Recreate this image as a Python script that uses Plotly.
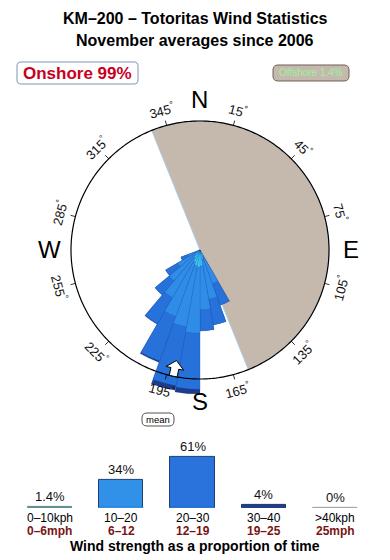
import math
import plotly.graph_objects as go

# ---------------- data ----------------
title_line1 = "KM–200 – Totoritas Wind Statistics"
title_line2 = "November averages since 2006"
onshore_label = "Onshore 99%"
offshore_label = "Offshore 1.4%"
mean_label = "mean"
footer_label = "Wind strength as a proportion of time"

# wind rose: direction sectors (centre, degrees) and % of time per speed class
sector_dirs = [155, 165, 175, 185, 195, 205, 215, 225, 235, 245]
pct_0_10 = [0.05, 0.1, 0.3, 0.35, 0.3, 0.2, 0.1, 0.05, 0.0, 0.0]
pct_10_20 = [1.5, 2.9, 4.0, 8.0, 7.0, 5.8, 3.55, 1.9, 0.8, 0.2]
pct_20_30 = [2.6, 3.95, 3.55, 15.0, 15.5, 10.8, 5.1, 2.2, 1.1, 0.3]
pct_30_40 = [0.0, 0.0, 0.0, 1.6, 1.6, 0.4, 0.1, 0.0, 0.0, 0.0]
sector_width = 10
ring_pct = 20            # % represented by the outer circle
offshore_start = 338     # offshore sector, clockwise from start to end
offshore_end = 158
mean_dir = 192

tick_angles = [15, 45, 75, 105, 135, 165, 195, 225, 255, 285, 315, 345]
cardinal_names = ["N", "E", "S", "W"]
cardinal_angles = [0, 90, 180, 270]

# speed distribution bar chart
speed_kph = ["0–10kph", "10–20", "20–30", "30–40", ">40kph"]
speed_mph = ["0–6mph", "6–12", "12–19", "19–25", "25mph"]
speed_pct = [1.4, 34, 61, 4, 0]
speed_pct_text = ["1.4%", "34%", "61%", "4%", "0%"]

# ---------------- styling / geometry ----------------
W, H = 390, 560
FONT = "Liberation Sans, Arial, Helvetica, sans-serif"
CX, CY = 200, 250          # rose centre (px)
R_RING = 129               # outer circle radius (px)
R_DOM = 146                # polar domain radius (px)
K = R_RING / math.sqrt(ring_pct)
RMAX = R_DOM / K

rose_colors = ["#3FC6F2", "#2F8DE8", "#2672DA", "#1F3C8A"]
bar_colors = ["#5E8E8E", "#3191E8", "#2A73DC", "#223F8C", "#A8A8A8"]
bar_line_colors = ["#5E8E8E", "#1E3F70", "#1E3F70", "#1A2F66", "#A8A8A8"]


def px(x, y):
    return x / W, 1 - y / H


def rounded_rect(x0, y0, x1, y1, r):
    def P(x, y):
        a, b = px(x, y)
        return f"{a:.5f},{b:.5f}"
    return (f"M{P(x0 + r, y0)} L{P(x1 - r, y0)} Q{P(x1, y0)} {P(x1, y0 + r)} "
            f"L{P(x1, y1 - r)} Q{P(x1, y1)} {P(x1 - r, y1)} L{P(x0 + r, y1)} "
            f"Q{P(x0, y1)} {P(x0, y1 - r)} L{P(x0, y0 + r)} Q{P(x0, y0)} {P(x0 + r, y0)} Z")


def label(text, x, y, size, color="black", angle=0, xref="paper", yref="paper"):
    return dict(text=text, x=x, y=y, xref=xref, yref=yref, xanchor="center", yanchor="middle",
                textangle=angle, showarrow=False, font=dict(family=FONT, size=size, color=color))


fig = go.Figure()

# offshore half-disc
off_span = (offshore_end - offshore_start) % 360
off_mid = (offshore_start + off_span / 2) % 360
fig.add_trace(go.Barpolar(
    r=[math.sqrt(ring_pct)], theta=[off_mid], width=[off_span],
    marker=dict(color="#C5B9AD", line=dict(color="#A9CBEA", width=1)),
    hoverinfo="skip", subplot="polar"))

# wind rose (area-proportional: radius ~ sqrt of cumulative %)
classes = [pct_0_10, pct_10_20, pct_20_30, pct_30_40]
cums = []
run = [0.0] * len(sector_dirs)
for c in classes:
    run = [a + b for a, b in zip(run, c)]
    cums.append(list(run))
for idx in reversed(range(len(classes))):
    fig.add_trace(go.Barpolar(
        r=[math.sqrt(v) for v in cums[idx]], theta=sector_dirs,
        width=[sector_width] * len(sector_dirs),
        marker=dict(color=rose_colors[idx],
                    line=dict(color="rgba(25,55,140,0.3)", width=0.5)),
        hoverinfo="skip", subplot="polar"))

# outer circle
fig.add_trace(go.Scatterpolar(
    r=[math.sqrt(ring_pct)] * 361, theta=list(range(361)), mode="lines",
    line=dict(color="black", width=1.2), hoverinfo="skip", subplot="polar"))

# ticks
tr, tt = [], []
for a in tick_angles:
    tr += [math.sqrt(ring_pct), (R_RING + 5) / K, None]
    tt += [a, a, None]
fig.add_trace(go.Scatterpolar(
    r=tr, theta=tt, mode="lines", line=dict(color="black", width=0.8),
    hoverinfo="skip", subplot="polar"))

# mean arrow (shape in local px units, converted to polar)
arrow_local = [(113, 0), (121, 9), (121, 4), (129, 4), (129, -4), (121, -4), (121, -9), (113, 0)]
ar, at = [], []
for rr, vv in arrow_local:
    ar.append(math.hypot(rr, vv) / K)
    at.append(mean_dir - math.degrees(math.atan2(vv, rr)))
fig.add_trace(go.Scatterpolar(
    r=ar, theta=at, mode="lines", fill="toself", fillcolor="white",
    line=dict(color="black", width=1), hoverinfo="skip", subplot="polar"))

# speed bars
xs = list(range(len(speed_pct)))
fig.add_trace(go.Bar(
    x=xs, y=speed_pct, width=0.62,
    marker=dict(color=bar_colors, line=dict(color=bar_line_colors, width=1)),
    hoverinfo="skip", xaxis="x", yaxis="y"))
# thin baseline strokes so that tiny / zero classes stay visible
for i, c in enumerate(bar_colors):
    fig.add_trace(go.Scatter(
        x=[i - 0.31, i + 0.31], y=[0, 0], mode="lines",
        line=dict(color=c, width=2), hoverinfo="skip", xaxis="x", yaxis="y"))

annotations = []
shapes = []

# titles
for txt, y in [(title_line1, 18), (title_line2, 41)]:
    annotations.append(label(f"<b>{txt}</b>", *px(195, y), 16))

# onshore / offshore / mean boxes
shapes.append(dict(type="path", xref="paper", yref="paper", path=rounded_rect(17, 62, 138, 84, 4),
                   fillcolor="white", line=dict(color="#7F93B5", width=1)))
annotations.append(label(f"<b>{onshore_label}</b>", *px(77.5, 73.5), 17, "#C8001E"))
shapes.append(dict(type="path", xref="paper", yref="paper", path=rounded_rect(273, 65, 349, 81, 5),
                   fillcolor="#C5B9AD", line=dict(color="#6E6258", width=1)))
annotations.append(label(offshore_label, *px(311, 73), 10, "#9CF29C"))
shapes.append(dict(type="path", xref="paper", yref="paper", path=rounded_rect(142, 413, 174, 426, 5),
                   fillcolor="white", line=dict(color="#555555", width=1)))
annotations.append(label(mean_label, *px(158, 419.5), 9.5))

# tick labels
for a in tick_angles:
    ang = a
    if 90 < ang <= 270:
        ang -= 180
    elif ang > 270:
        ang -= 360
    lx = CX + 145 * math.sin(math.radians(a))
    ly = CY - 145 * math.cos(math.radians(a))
    annotations.append(label(f"{a}<sup>°</sup>", *px(lx, ly), 13, "#111111", angle=ang))

# cardinal letters
for name, a in zip(cardinal_names, cardinal_angles):
    lx = CX + 151 * math.sin(math.radians(a))
    ly = CY - 151 * math.cos(math.radians(a))
    annotations.append(label(name, *px(lx, ly), 24))

# bar labels
_, yk = px(0, 517.5)
_, ym = px(0, 530.5)
for i, (v, t) in enumerate(zip(speed_pct, speed_pct_text)):
    a = label(t, i, v, 13, "#111111", xref="x", yref="y")
    a.update(yanchor="bottom", yshift=1)
    annotations.append(a)
    annotations.append(label(speed_kph[i], i, yk, 12, "black", xref="x"))
    annotations.append(label(f"<b>{speed_mph[i]}</b>", i, ym, 12, "#7A1414", xref="x"))

annotations.append(label(f"<b>{footer_label}</b>", *px(195, 546), 14))

pdx0, pdy0 = px(CX - R_DOM, CY + R_DOM)
pdx1, pdy1 = px(CX + R_DOM, CY - R_DOM)
bar_base = 1 - 508 / H
bar_px_per_pct = 0.83
bar_top_pct = 70

fig.update_layout(
    width=W, height=H, margin=dict(l=0, r=0, t=0, b=0),
    paper_bgcolor="white", plot_bgcolor="rgba(0,0,0,0)",
    showlegend=False,
    polar=dict(
        domain=dict(x=[pdx0, pdx1], y=[pdy0, pdy1]),
        bgcolor="rgba(0,0,0,0)",
        barmode="overlay",
        radialaxis=dict(visible=False, range=[0, RMAX]),
        angularaxis=dict(visible=False, rotation=90, direction="clockwise"),
    ),
    xaxis=dict(domain=[0, 1], range=[-0.701, 4.769], visible=False, fixedrange=True),
    yaxis=dict(domain=[bar_base, bar_base + bar_top_pct * bar_px_per_pct / H],
               range=[0, bar_top_pct], visible=False, fixedrange=True),
    annotations=annotations,
    shapes=shapes,
    bargap=0,
)

fig.write_html("out.html")
